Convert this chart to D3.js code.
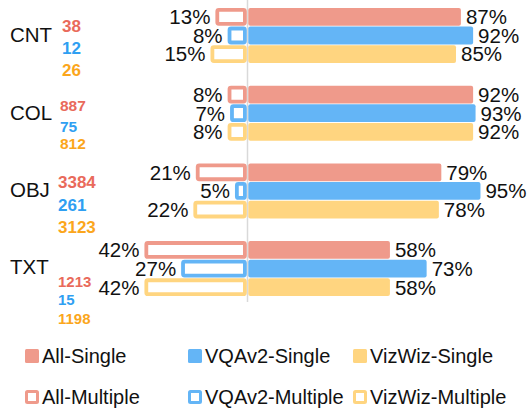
<!DOCTYPE html>
<html>
<head>
<meta charset="utf-8">
<script src="https://cdn.jsdelivr.net/npm/d3@7"></script>
<style>
  html, body { margin: 0; padding: 0; background: #fff; }
  svg { display: block; font-family: "Liberation Sans", Arial, sans-serif; }
</style>
</head>
<body>
<svg id="chart" width="527" height="409"></svg>
<script>
// ---- data ----
const categories = ["CNT", "COL", "OBJ", "TXT"];
const seriesNames = ["All", "VQAv2", "VizWiz"];
const singleValues = {
  All:    [87, 92, 79, 58],
  VQAv2:  [92, 93, 95, 73],
  VizWiz: [85, 92, 78, 58]
};
const multipleValues = {
  All:    [13, 8, 21, 42],
  VQAv2:  [8, 7, 5, 27],
  VizWiz: [15, 8, 22, 42]
};
const counts = {
  All:    [38, 887, 3384, 1213],
  VQAv2:  [12, 75, 261, 15],
  VizWiz: [26, 812, 3123, 1198]
};
const legendLabels = [
  "All-Single", "VQAv2-Single", "VizWiz-Single",
  "All-Multiple", "VQAv2-Multiple", "VizWiz-Multiple"
];

// ---- styles / layout ----
const barColors = { All: "#EF9A8B", VQAv2: "#64B5F6", VizWiz: "#FFD580" };
const countColors = { All: "#E96A5B", VQAv2: "#2F9FF2", VizWiz: "#FBA61C" };
// manual placement of the count annotations (offset from group centre)
const countLayout = [
  { x: 62, size: 17, dy: [-10, 12, 34] },
  { x: 60, size: 15.5, dy: [-8, 13, 30] },
  { x: 58, size: 17, dy: [-9, 14, 36] },
  { x: 58, size: 15, dy: [13, 31, 50] }
];

const svg = d3.select("#chart");
const axisX = 248;
const x = d3.scaleLinear().domain([-100, 100]).range([axisX - 244.7, axisX + 244.7]);
const y0 = d3.scaleBand().domain(categories).range([8, 8 + 4 * 77.7]).padding(0);
const y1 = d3.scaleBand().domain(seriesNames).range([0, 55]).paddingInner(0.045);

// axis line
svg.append("line")
  .attr("x1", axisX - 0.5).attr("x2", axisX - 0.5)
  .attr("y1", 0).attr("y2", 302)
  .attr("stroke", "#d9d9d9").attr("stroke-width", 1.5);

const sw = 3.8;
categories.forEach((cat, ci) => {
  const gTop = y0(cat);
  const gCenter = gTop + 27.5;
  seriesNames.forEach(s => {
    const yy = gTop + y1(s);
    const h = y1.bandwidth();
    const sv = singleValues[s][ci];
    const mv = multipleValues[s][ci];
    // single bar
    svg.append("rect")
      .attr("x", x(0) + 0.3).attr("y", yy)
      .attr("width", x(sv) - x(0) - 0.3).attr("height", h)
      .attr("rx", 2).attr("fill", barColors[s]);
    // multiple bar (outlined)
    const mx = x(-mv) - 0.8;
    svg.append("rect")
      .attr("x", mx + sw / 2).attr("y", yy + sw / 2)
      .attr("width", (x(0) - 1.2) - mx - sw).attr("height", h - sw)
      .attr("rx", 1.5).attr("fill", "#fff")
      .attr("stroke", barColors[s]).attr("stroke-width", sw);
    // labels
    svg.append("text")
      .attr("x", x(sv) + 5).attr("y", yy + h / 2)
      .attr("dy", "0.36em").attr("font-size", 20.5).attr("fill", "#111")
      .text(sv + "%");
    svg.append("text")
      .attr("x", mx - 5).attr("y", yy + h / 2)
      .attr("dy", "0.36em").attr("text-anchor", "end")
      .attr("font-size", 20.5).attr("fill", "#111")
      .text(mv + "%");
  });
  // category label
  svg.append("text")
    .attr("x", 10).attr("y", gCenter - 1 - (ci === 3 ? 1 : 0))
    .attr("dy", "0.36em").attr("font-size", 20.5).attr("fill", "#111")
    .text(cat);
  // counts
  const L = countLayout[ci];
  seriesNames.forEach((s, si) => {
    svg.append("text")
      .attr("x", L.x).attr("y", gCenter + L.dy[si])
      .attr("dy", "0.36em").attr("font-size", L.size)
      .attr("font-weight", "bold").attr("fill", countColors[s])
      .text(counts[s][ci]);
  });
});

// legend
const legX = [25, 188, 353];
const legY = [356, 397];
legendLabels.forEach((lab, i) => {
  const col = i % 3, row = Math.floor(i / 3);
  const s = seriesNames[col];
  const lx = legX[col], ly = legY[row];
  if (row === 0) {
    svg.append("rect").attr("x", lx).attr("y", ly - 7)
      .attr("width", 14).attr("height", 14).attr("rx", 1.5)
      .attr("fill", barColors[s]);
  } else {
    svg.append("rect").attr("x", lx + 1.5).attr("y", ly - 5.5)
      .attr("width", 11).attr("height", 11).attr("rx", 1)
      .attr("fill", "#fff").attr("stroke", barColors[s]).attr("stroke-width", 3);
  }
  svg.append("text").attr("x", lx + 17).attr("y", ly)
    .attr("dy", "0.36em").attr("font-size", 20).attr("fill", "#111")
    .text(lab);
});
</script>
</body>
</html>
